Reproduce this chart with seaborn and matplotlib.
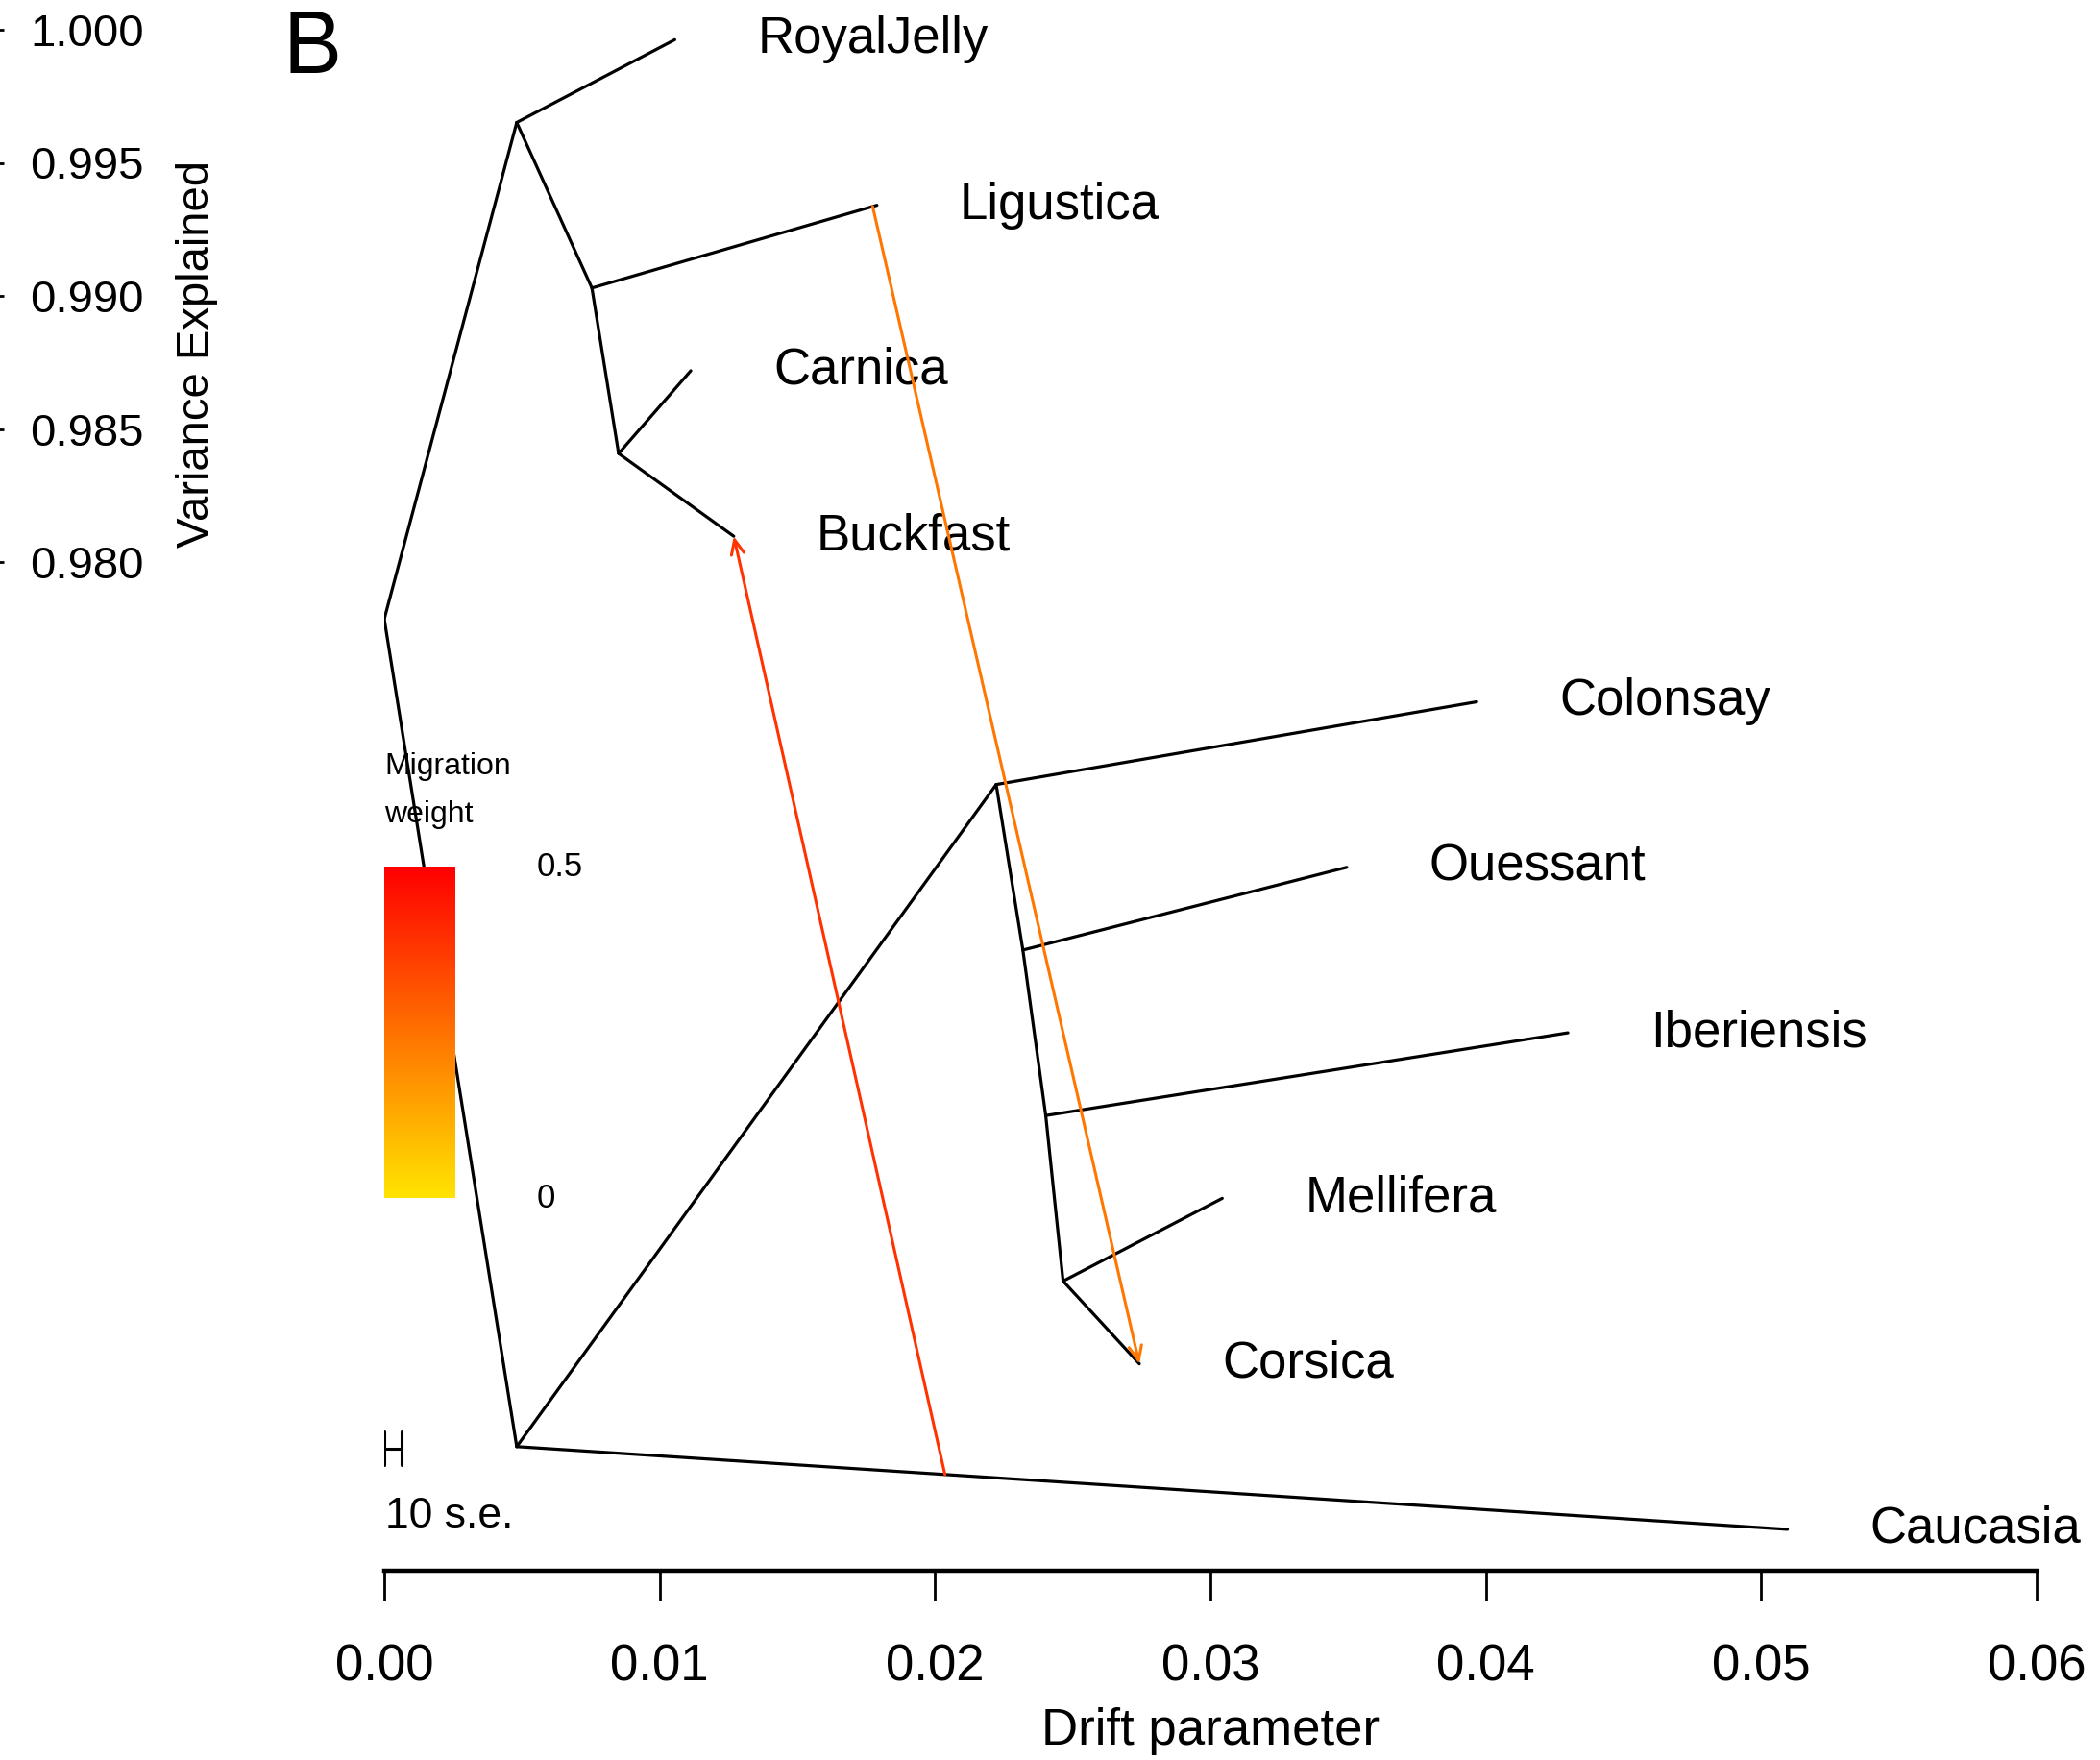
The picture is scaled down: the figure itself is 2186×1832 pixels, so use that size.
import numpy as np
import pandas as pd
import matplotlib
matplotlib.use("Agg")
import matplotlib.pyplot as plt
import seaborn as sns
from matplotlib.colors import hsv_to_rgb, ListedColormap

sns.set_theme(style="white", rc={"text.color": "black", "axes.labelcolor": "black",
                                 "xtick.color": "black", "ytick.color": "black"})
plt.rcParams["font.family"] = ["Liberation Sans", "DejaVu Sans"]

# tree nodes: drift parameter (x) and row position (y, Caucasia row = 0)
node_names = ["root", "n_top", "n_lig", "n_car", "n_bot", "n_col", "n_oue", "n_ibe", "n_mel",
              "RoyalJelly", "Ligustica", "Carnica", "Buckfast", "Colonsay", "Ouessant",
              "Iberiensis", "Mellifera", "Corsica", "Caucasia"]
node_x = [0.0, 0.00481, 0.00754, 0.00851, 0.00481, 0.02222, 0.02319, 0.02402, 0.02465,
          0.01055, 0.01789, 0.01113, 0.01269, 0.03967, 0.03495, 0.04298, 0.03043, 0.02742, 0.05095]
node_y = [5.5, 8.5, 7.5, 6.5, 0.5, 4.5, 3.5, 2.5, 1.5,
          9, 8, 7, 6, 5, 4, 3, 2, 1, 0]

edge_from = ["root", "n_top", "n_top", "n_lig", "n_lig", "n_car", "n_car", "root", "n_bot",
             "n_bot", "n_col", "n_col", "n_oue", "n_oue", "n_ibe", "n_ibe", "n_mel", "n_mel"]
edge_to = ["n_top", "RoyalJelly", "n_lig", "Ligustica", "n_car", "Carnica", "Buckfast", "n_bot",
           "Caucasia", "n_col", "Colonsay", "n_oue", "Ouessant", "n_ibe", "Iberiensis", "n_mel",
           "Mellifera", "Corsica"]

tip_names = ["RoyalJelly", "Ligustica", "Carnica", "Buckfast", "Colonsay", "Ouessant",
             "Iberiensis", "Mellifera", "Corsica", "Caucasia"]

# migration edges: source edge, position along it, target, weight
mig_src_from = ["n_bot", "n_lig"]
mig_src_to = ["Caucasia", "Ligustica"]
mig_src_frac = [0.337, 0.985]
mig_target = ["Buckfast", "Corsica"]
mig_weight = [0.39, 0.24]

var_ticks = [0.980, 0.985, 0.990, 0.995, 1.000]
drift_ticks = [0.00, 0.01, 0.02, 0.03, 0.04, 0.05, 0.06]
se_bar = 0.00063

pos = {n: (x, y) for n, x, y in zip(node_names, node_x, node_y)}

# migration colour ramp (yellow -> red over weights 0..0.5)
hues = np.linspace(0.1488, 0.0, 256)
ramp = hsv_to_rgb(np.column_stack([hues, np.ones(256), np.ones(256)]))
mig_cmap = ListedColormap(ramp)

W, H, DPI = 2186, 1832, 200
fig = plt.figure(figsize=(W / DPI, H / DPI), dpi=DPI)
ax = fig.add_axes([400 / W, (H - 1635) / H, 1720 / W, 1635 / H])

rows = []
for i, (a, b) in enumerate(zip(edge_from, edge_to)):
    rows.append({"edge": i, "x": pos[a][0], "y": pos[a][1]})
    rows.append({"edge": i, "x": pos[b][0], "y": pos[b][1]})
edges = pd.DataFrame(rows)
sns.lineplot(data=edges, x="x", y="y", units="edge", estimator=None, sort=False,
             color="black", linewidth=1.15, legend=False, ax=ax, zorder=2)

for name in tip_names:
    x, y = pos[name]
    ax.text(x + 0.003, y, name, fontsize=19, ha="left", va="center", clip_on=False)

for a, b, f, t, w in zip(mig_src_from, mig_src_to, mig_src_frac, mig_target, mig_weight):
    sx = pos[a][0] + f * (pos[b][0] - pos[a][0])
    sy = pos[a][1] + f * (pos[b][1] - pos[a][1])
    col = mig_cmap(w / 0.5)
    ax.annotate("", xy=pos[t], xytext=(sx, sy),
                arrowprops=dict(arrowstyle="->,head_length=0.45,head_width=0.2",
                                color=col, lw=1.1, shrinkA=0, shrinkB=0), zorder=3)

# migration weight legend
grad = np.linspace(0, 1, 200).reshape(-1, 1)
ax.imshow(grad, cmap=mig_cmap, origin="lower", aspect="auto",
          extent=[0.0, 0.00258, 2.0, 4.0], zorder=4)
ax.text(0.0, 4.61, "Migration", fontsize=11.5, ha="left", va="center")
ax.text(0.0, 4.32, "weight", fontsize=11.5, ha="left", va="center")
ax.text(0.00554, 4.0, "0.5", fontsize=12.5, ha="left", va="center")
ax.text(0.00554, 2.0, "0", fontsize=12.5, ha="left", va="center")

# standard error bar
ax.plot([0, se_bar], [0.49, 0.49], color="black", lw=1.1)
ax.plot([0, 0], [0.39, 0.59], color="black", lw=1.1)
ax.plot([se_bar, se_bar], [0.39, 0.59], color="black", lw=1.1)
ax.text(0.00005, 0.08, "10 s.e.", fontsize=16, ha="left", va="center")

ax.text(-0.00262, 8.80, "B", fontsize=33, ha="center", va="baseline", clip_on=False)

ax.set_xlim(0, 0.06)
ax.set_ylim(-0.25, 9.24)
ax.set_xticks(drift_ticks)
ax.set_xticklabels([f"{v:.2f}" for v in drift_ticks], fontsize=19)
ax.set_yticks([])
ax.set_xlabel("Drift parameter", fontsize=19, labelpad=6)
ax.set_ylabel("")
for s in ["left", "top", "right"]:
    ax.spines[s].set_visible(False)
ax.spines["bottom"].set_linewidth(1.6)
ax.spines["bottom"].set_color("black")
ax.tick_params(axis="x", direction="out", length=11, width=1.0, pad=16,
               color="black", bottom=True)
ax.patch.set_alpha(0)

# leftover right-hand axis from the neighbouring panel
ax2 = fig.add_axes([-0.05 - 9 / W, (H - 585) / H, 0.05, 554 / H])
ax2.set_ylim(0.980, 1.000)
ax2.set_yticks(var_ticks)
ax2.set_yticklabels([f"{v:.3f}" for v in var_ticks], fontsize=17)
ax2.yaxis.tick_right()
ax2.set_xticks([])
for s in ax2.spines.values():
    s.set_visible(False)
ax2.tick_params(axis="y", direction="out", length=4.5, width=1.0, pad=10, color="black")
fig.text(205 / W, 1 - 369 / H, "Variance Explained", fontsize=17, rotation=90,
         ha="center", va="center")

fig.savefig("out.png", dpi=DPI)
